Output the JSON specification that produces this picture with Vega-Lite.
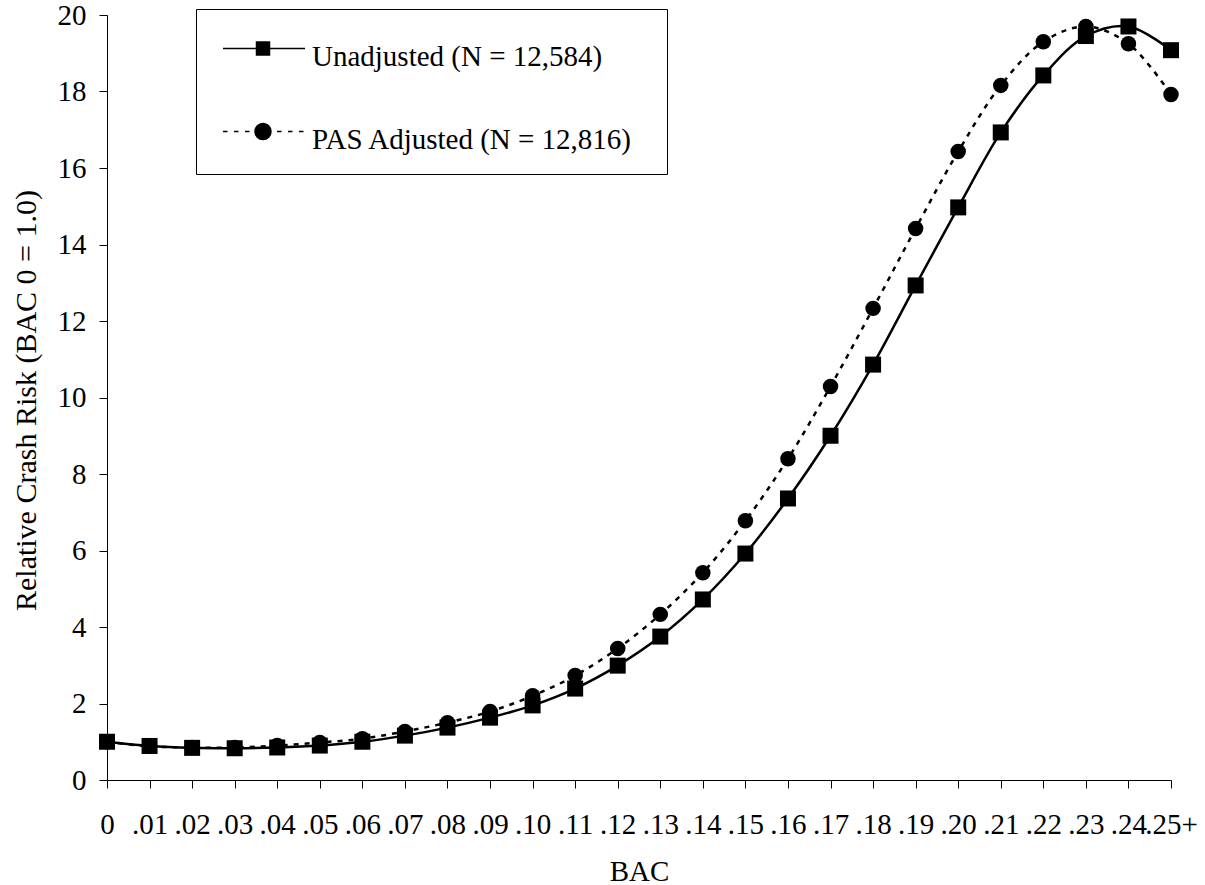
{
  "$schema": "https://vega.github.io/schema/vega-lite/v6.json",
  "autosize": "none",
  "width": 1064,
  "height": 765,
  "padding": {"left": 107, "top": 15, "right": 34, "bottom": 105},
  "background": "white",
  "config": {
    "view": {"stroke": null},
    "font": "Liberation Serif",
    "axis": {
      "labelFont": "Liberation Serif",
      "titleFont": "Liberation Serif",
      "labelFontSize": 29,
      "titleFontSize": 29,
      "titleFontWeight": "normal",
      "labelColor": "black",
      "titleColor": "black",
      "domainColor": "black",
      "tickColor": "black",
      "tickSize": 8,
      "grid": false
    },
    "legend": {
      "labelFont": "Liberation Serif",
      "labelFontSize": 29,
      "labelColor": "black"
    }
  },
  "data": {
    "values": [
      {"bac": "0", "series": "Unadjusted", "risk": 1.0},
      {"bac": ".01", "series": "Unadjusted", "risk": 0.89},
      {"bac": ".02", "series": "Unadjusted", "risk": 0.84},
      {"bac": ".03", "series": "Unadjusted", "risk": 0.83},
      {"bac": ".04", "series": "Unadjusted", "risk": 0.85},
      {"bac": ".05", "series": "Unadjusted", "risk": 0.9},
      {"bac": ".06", "series": "Unadjusted", "risk": 1.0},
      {"bac": ".07", "series": "Unadjusted", "risk": 1.16},
      {"bac": ".08", "series": "Unadjusted", "risk": 1.37},
      {"bac": ".09", "series": "Unadjusted", "risk": 1.63},
      {"bac": ".10", "series": "Unadjusted", "risk": 1.95},
      {"bac": ".11", "series": "Unadjusted", "risk": 2.39},
      {"bac": ".12", "series": "Unadjusted", "risk": 2.99},
      {"bac": ".13", "series": "Unadjusted", "risk": 3.75},
      {"bac": ".14", "series": "Unadjusted", "risk": 4.72},
      {"bac": ".15", "series": "Unadjusted", "risk": 5.92},
      {"bac": ".16", "series": "Unadjusted", "risk": 7.36},
      {"bac": ".17", "series": "Unadjusted", "risk": 9.0},
      {"bac": ".18", "series": "Unadjusted", "risk": 10.86},
      {"bac": ".19", "series": "Unadjusted", "risk": 12.93},
      {"bac": ".20", "series": "Unadjusted", "risk": 14.97},
      {"bac": ".21", "series": "Unadjusted", "risk": 16.93},
      {"bac": ".22", "series": "Unadjusted", "risk": 18.42},
      {"bac": ".23", "series": "Unadjusted", "risk": 19.45},
      {"bac": ".24", "series": "Unadjusted", "risk": 19.7},
      {"bac": ".25+", "series": "Unadjusted", "risk": 19.08},
      {"bac": "0", "series": "PAS", "risk": 1.0},
      {"bac": ".01", "series": "PAS", "risk": 0.88},
      {"bac": ".02", "series": "PAS", "risk": 0.85},
      {"bac": ".03", "series": "PAS", "risk": 0.85},
      {"bac": ".04", "series": "PAS", "risk": 0.9},
      {"bac": ".05", "series": "PAS", "risk": 0.98},
      {"bac": ".06", "series": "PAS", "risk": 1.08},
      {"bac": ".07", "series": "PAS", "risk": 1.27},
      {"bac": ".08", "series": "PAS", "risk": 1.5},
      {"bac": ".09", "series": "PAS", "risk": 1.79},
      {"bac": ".10", "series": "PAS", "risk": 2.2},
      {"bac": ".11", "series": "PAS", "risk": 2.73},
      {"bac": ".12", "series": "PAS", "risk": 3.44},
      {"bac": ".13", "series": "PAS", "risk": 4.33},
      {"bac": ".14", "series": "PAS", "risk": 5.42},
      {"bac": ".15", "series": "PAS", "risk": 6.78},
      {"bac": ".16", "series": "PAS", "risk": 8.4},
      {"bac": ".17", "series": "PAS", "risk": 10.29},
      {"bac": ".18", "series": "PAS", "risk": 12.33},
      {"bac": ".19", "series": "PAS", "risk": 14.42},
      {"bac": ".20", "series": "PAS", "risk": 16.43},
      {"bac": ".21", "series": "PAS", "risk": 18.16},
      {"bac": ".22", "series": "PAS", "risk": 19.3},
      {"bac": ".23", "series": "PAS", "risk": 19.7},
      {"bac": ".24", "series": "PAS", "risk": 19.25},
      {"bac": ".25+", "series": "PAS", "risk": 17.92}
    ]
  },
  "encoding": {
    "x": {
      "field": "bac",
      "type": "ordinal",
      "scale": {
        "type": "point",
        "padding": 0,
        "domain": ["0", ".01", ".02", ".03", ".04", ".05", ".06", ".07", ".08", ".09", ".10", ".11", ".12", ".13", ".14", ".15", ".16", ".17", ".18", ".19", ".20", ".21", ".22", ".23", ".24", ".25+"]
      },
      "axis": {
        "title": "BAC",
        "labelAngle": 0,
        "labelBaseline": "alphabetic",
        "labelPadding": 45,
        "labelOverlap": false,
        "labelBound": false,
        "titleBaseline": "alphabetic",
        "titleY": 100
      }
    },
    "y": {
      "field": "risk",
      "type": "quantitative",
      "scale": {"domain": [0, 20], "nice": false, "zero": true},
      "axis": {
        "title": "Relative Crash Risk (BAC 0 = 1.0)",
        "values": [0, 2, 4, 6, 8, 10, 12, 14, 16, 18, 20],
        "labelPadding": 13,
        "titleFontSize": 30,
        "titleBaseline": "alphabetic",
        "titleAngle": -90,
        "titleAlign": "center",
        "titleX": -72,
        "titleY": 385
      }
    }
  },
  "layer": [
    {
      "transform": [{"filter": "datum.series === 'PAS'"}],
      "mark": {"type": "line", "color": "black", "strokeWidth": 2.5, "strokeDash": [5, 6], "interpolate": "catmull-rom"}
    },
    {
      "transform": [{"filter": "datum.series === 'Unadjusted'"}],
      "mark": {"type": "line", "color": "black", "strokeWidth": 2.5, "interpolate": "catmull-rom"}
    },
    {
      "transform": [{"filter": "datum.series === 'PAS'"}],
      "mark": {"type": "point", "shape": "circle", "filled": true, "color": "black", "opacity": 1, "size": 240}
    },
    {
      "transform": [{"filter": "datum.series === 'Unadjusted'"}],
      "mark": {"type": "point", "shape": "square", "filled": true, "color": "black", "opacity": 1, "size": 256}
    },
    {
      "transform": [{"filter": "datum.risk < 0"}],
      "mark": {"type": "point", "filled": true, "color": "black", "fill": "black", "stroke": "black", "strokeWidth": 2.5, "opacity": 1, "size": 400},
      "encoding": {
        "shape": {
          "field": "series",
          "type": "nominal",
          "scale": {
            "domain": ["Unadjusted", "PAS"],
            "range": [
              "M-4,-0.8H4.2M-0.65,-1.45H0.65V-0.15H-0.65Z",
              "M38.2,-0.8M-4,-0.8H-3.55M-2.9,-0.8H-2.45M-1.8,-0.8H-1.35M0.8,-0.8A0.8,0.8,0,1,1,-0.8,-0.8A0.8,0.8,0,1,1,0.8,-0.8ZM1.4,-0.8H1.85M2.5,-0.8H2.95M3.6,-0.8H4.05"
            ]
          },
          "legend": {
            "title": " ",
            "titleFontSize": 1,
            "titlePadding": 13,
            "orient": "none",
            "legendX": 89,
            "legendY": -6,
            "direction": "vertical",
            "padding": 19,
            "rowPadding": 48,
            "symbolOffset": 33.5,
            "labelOffset": 34.5,
            "labelLimit": 1000,
            "symbolSize": 400,
            "strokeColor": "black",
            "fillColor": "white",
            "labelExpr": "datum.value === 'PAS' ? 'PAS Adjusted (N = 12,816)' : 'Unadjusted (N = 12,584)'",
            "encode": {
              "symbols": {
                "fill": {"value": "black"},
                "stroke": {"value": "black"},
                "strokeWidth": {"value": 2.5},
                "opacity": {"value": 1}
              }
            }
          }
        }
      }
    }
  ]
}
